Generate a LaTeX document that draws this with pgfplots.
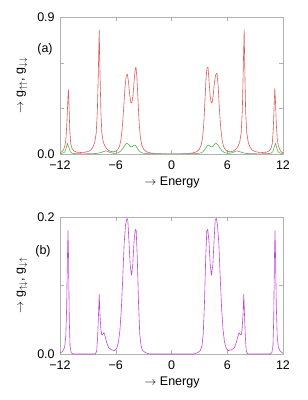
\documentclass[border=0pt]{standalone}
\usepackage{fontspec}
\setmainfont{Liberation Sans}
\usepackage{pgfplots}
\pgfplotsset{compat=1.18}
\definecolor{cred}{RGB}{225,90,90}
\definecolor{cgreen}{RGB}{80,180,80}
\definecolor{cmag}{RGB}{195,70,215}
\begin{document}
\fontsize{12.5}{15}\selectfont
\begin{tikzpicture}
\path[use as bounding box] (0pt,0pt) rectangle (308pt,400pt);
\pgfplotsset{every axis/.append style={
  width=223pt, height=137pt, scale only axis,
  xmin=-12, xmax=12, xtick={-12,-6,0,6,12},
  xticklabels={−12,−6,0,6,12},
  axis line style={gray!60}, tick style={gray!60, major tick length=4pt},
  tick label style={font=\fontsize{12.5}{15}\selectfont},
  xticklabel style={yshift=-2pt},
  yticklabel style={xshift=-1pt},
  clip=true, line join=round}}
% ---------- panel (a)
\begin{axis}[at={(60pt,246pt)}, anchor=south west, ymin=0, ymax=0.9,
  ytick={0,0.3,0.6,0.9}, yticklabels={0.0,,,0.9}]
\addplot[cred, line width=0.6pt] coordinates {
(-12,0.008)(-11.8,0.015)(-11.6,0.03)(-11.45,0.06)(-11.35,0.11)(-11.25,0.22)(-11.15,0.36)(-11.1,0.425)(-11.05,0.36)(-10.95,0.16)(-10.85,0.07)(-10.7,0.035)(-10.5,0.02)(-10.2,0.012)(-9.8,0.01)(-9.4,0.011)(-9.0,0.016)(-8.7,0.025)(-8.45,0.045)(-8.25,0.08)(-8.1,0.14)(-7.98,0.28)(-7.88,0.52)(-7.78,0.815)(-7.7,0.55)(-7.6,0.28)(-7.5,0.14)(-7.35,0.08)(-7.15,0.05)(-6.9,0.03)(-6.6,0.018)(-6.3,0.014)(-6.0,0.018)(-5.8,0.028)(-5.6,0.05)(-5.45,0.09)(-5.3,0.17)(-5.15,0.3)(-5.0,0.44)(-4.88,0.51)(-4.75,0.525)(-4.62,0.47)(-4.5,0.39)(-4.38,0.34)(-4.27,0.335)(-4.15,0.38)(-4.02,0.48)(-3.9,0.56)(-3.82,0.57)(-3.72,0.5)(-3.6,0.35)(-3.48,0.2)(-3.35,0.11)(-3.2,0.06)(-3.0,0.032)(-2.7,0.015)(-2.3,0.007)(-1.8,0.003)(-1,0.001)(0,0)
(1,0.001)(1.8,0.003)(2.3,0.007)(2.7,0.015)(3.0,0.032)(3.2,0.06)(3.35,0.11)(3.48,0.2)(3.6,0.35)(3.72,0.5)(3.82,0.565)(3.93,0.57)(4.03,0.49)(4.15,0.39)(4.27,0.335)(4.38,0.34)(4.5,0.39)(4.62,0.47)(4.75,0.52)(4.9,0.53)(5.02,0.45)(5.15,0.3)(5.3,0.17)(5.45,0.09)(5.6,0.05)(5.8,0.028)(6.0,0.018)(6.3,0.014)(6.6,0.018)(6.9,0.03)(7.15,0.05)(7.35,0.08)(7.5,0.14)(7.62,0.28)(7.72,0.55)(7.82,0.815)(7.9,0.52)(7.98,0.28)(8.1,0.14)(8.25,0.08)(8.45,0.045)(8.7,0.025)(9.0,0.016)(9.4,0.011)(9.8,0.01)(10.2,0.012)(10.5,0.02)(10.7,0.035)(10.85,0.07)(10.95,0.16)(11.05,0.32)(11.12,0.43)(11.18,0.36)(11.28,0.2)(11.38,0.1)(11.5,0.055)(11.65,0.03)(11.8,0.015)(12,0.008)
};
\addplot[cgreen, line width=0.6pt] coordinates {
(-12,0.002)(-11.7,0.006)(-11.5,0.012)(-11.35,0.035)(-11.2,0.07)(-11.05,0.045)(-10.9,0.015)(-10.7,0.005)(-10.3,0.002)(-9.5,0.001)(-8.5,0.002)(-8.0,0.004)(-7.7,0.008)(-7.4,0.014)(-7.1,0.02)(-6.9,0.018)(-6.6,0.01)(-6.3,0.005)(-6.0,0.005)(-5.7,0.009)(-5.45,0.02)(-5.2,0.04)(-5.0,0.06)(-4.8,0.072)(-4.6,0.062)(-4.4,0.047)(-4.2,0.05)(-4.0,0.058)(-3.85,0.055)(-3.65,0.035)(-3.4,0.015)(-3.1,0.006)(-2.5,0.002)(-1.5,0.0005)(0,0)
(1.5,0.0005)(2.5,0.002)(3.1,0.006)(3.4,0.015)(3.65,0.035)(3.85,0.055)(4.0,0.058)(4.2,0.05)(4.4,0.047)(4.6,0.062)(4.8,0.072)(5.0,0.06)(5.2,0.04)(5.45,0.02)(5.7,0.009)(6.0,0.005)(6.3,0.005)(6.6,0.01)(6.9,0.018)(7.1,0.02)(7.4,0.014)(7.7,0.008)(8.0,0.004)(8.5,0.002)(9.5,0.001)(10.3,0.002)(10.7,0.005)(10.9,0.015)(11.05,0.045)(11.2,0.07)(11.35,0.035)(11.5,0.012)(11.7,0.006)(12,0.002)
};
\end{axis}
% ---------- panel (b)
\begin{axis}[at={(60pt,46pt)}, anchor=south west, ymin=0, ymax=0.2,
  ytick={0,0.1,0.2}, yticklabels={0.0,,0.2}]
\addplot[cmag, line width=0.6pt] coordinates {
(-12,0.001)(-11.7,0.004)(-11.5,0.01)(-11.38,0.025)(-11.28,0.07)(-11.2,0.14)(-11.14,0.18)(-11.08,0.14)(-11.0,0.05)(-10.92,0.012)(-10.8,0.002)(-10.6,0)(-8.2,0)(-8.05,0.004)(-7.95,0.025)(-7.85,0.06)(-7.78,0.087)(-7.7,0.058)(-7.6,0.036)(-7.5,0.028)(-7.38,0.029)(-7.27,0.031)(-7.15,0.026)(-6.98,0.017)(-6.75,0.009)(-6.45,0.006)(-6.1,0.005)(-5.9,0.008)(-5.7,0.018)(-5.55,0.035)(-5.4,0.065)(-5.25,0.11)(-5.1,0.16)(-4.95,0.188)(-4.8,0.198)(-4.7,0.195)(-4.58,0.165)(-4.45,0.13)(-4.3,0.115)(-4.17,0.13)(-4.03,0.165)(-3.9,0.182)(-3.8,0.18)(-3.68,0.14)(-3.55,0.075)(-3.42,0.03)(-3.28,0.012)(-3.1,0.005)(-2.8,0.002)(-2.4,0)(2.4,0)
(2.8,0.002)(3.1,0.005)(3.28,0.012)(3.42,0.03)(3.55,0.075)(3.68,0.14)(3.8,0.18)(3.9,0.182)(4.03,0.165)(4.17,0.13)(4.3,0.115)(4.45,0.13)(4.58,0.165)(4.7,0.195)(4.82,0.198)(4.95,0.188)(5.1,0.16)(5.25,0.11)(5.4,0.065)(5.55,0.035)(5.7,0.018)(5.9,0.008)(6.1,0.005)(6.45,0.006)(6.75,0.009)(6.98,0.017)(7.15,0.026)(7.27,0.031)(7.38,0.029)(7.5,0.028)(7.6,0.036)(7.7,0.058)(7.78,0.087)(7.85,0.06)(7.95,0.025)(8.05,0.004)(8.2,0)(10.6,0)(10.8,0.002)(10.92,0.012)(11.0,0.05)(11.08,0.14)(11.14,0.18)(11.2,0.14)(11.28,0.07)(11.38,0.025)(11.5,0.01)(11.7,0.004)(12,0.001)
};
\end{axis}
% ---------- labels
\node[rotate=90] at (22pt,314.5pt) {$\rightarrow$ g$_{\uparrow\uparrow}$, g$_{\downarrow\downarrow}$};
\node[rotate=90] at (22pt,114.5pt) {$\rightarrow$ g$_{\uparrow\downarrow}$, g$_{\downarrow\uparrow}$};
\node at (172pt,217.3pt) {$\rightarrow$ Energy};
\node at (172pt,17.3pt) {$\rightarrow$ Energy};
\node at (45pt,351pt) {(a)};
\node at (43pt,148.3pt) {(b)};
\end{tikzpicture}
\end{document}
